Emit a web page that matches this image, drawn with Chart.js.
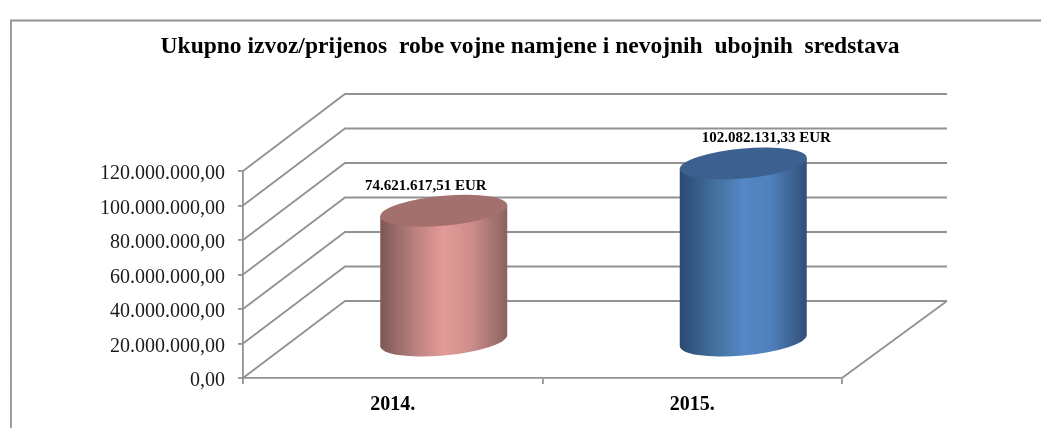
<!DOCTYPE html>
<html>
<head>
<meta charset="utf-8">
<title>Ukupno izvoz/prijenos</title>
<script src="https://cdn.jsdelivr.net/npm/chart.js@4"></script>
<style>
  html, body { margin: 0; padding: 0; background: #fff; }
  #wrap { width: 1041px; height: 428px; position: relative; overflow: hidden; }
</style>
</head>
<body>
<div id="wrap"><canvas id="exportChart"></canvas></div>
<script>
// Chart data
const years = ['2014.', '2015.'];
const exportValues = [74621617.51, 102082131.33];
const yTicks = [0, 20000000, 40000000, 60000000, 80000000, 100000000, 120000000];
const titleText = 'Ukupno izvoz/prijenos  robe vojne namjene i nevojnih  ubojnih  sredstava';

// Looks of the 3D box and the cylinders
const FONT = '"Liberation Serif", "Times New Roman", serif';
const lineColor = '#929292';
const lineWidth = 1.8;
const depthX = 102;
const depthY = -77;
const capHeight = 15;
const capTilt = 5.5;
const baseDrop = 2;
const labelShift = [[-18, -25], [23, -25]];
const bodyStops = [
  [[0, '#7b5856'], [0.28, '#bb8280'], [0.5, '#e49b98'], [0.72, '#cc8d8a'], [1, '#8a6260']],
  [[0, '#2b4a72'], [0.28, '#44709f'], [0.5, '#5488c6'], [0.72, '#4f80bb'], [1, '#2f4f78']]
];
const capColors = ['#a3706d', '#3c6190'];

const formatNumber = v => v.toLocaleString('de-DE', { minimumFractionDigits: 2, maximumFractionDigits: 2 });

// Frame, back walls, floor
const box3d = {
  id: 'box3d',
  afterLayout(chart) {
    // title is centred on the page frame, not on the plot
    chart.titleBlock.right += 218;
  },
  beforeDatasetsDraw(chart) {
    const { ctx, chartArea: a, scales: { y } } = chart;
    ctx.save();
    ctx.strokeStyle = lineColor;
    ctx.lineWidth = lineWidth;
    ctx.beginPath();
    ctx.moveTo(11, 428);
    ctx.lineTo(11, 20.5);
    ctx.lineTo(1041, 20.5);
    yTicks.forEach(v => {
      const py = y.getPixelForValue(v);
      ctx.moveTo(a.left, py);
      ctx.lineTo(a.left + depthX, py + depthY);
      ctx.lineTo(a.right + depthX + 3, py + depthY);
    });
    const base = y.getPixelForValue(0);
    ctx.moveTo(a.right, base);
    ctx.lineTo(a.right + depthX + 3, base + depthY);
    ctx.stroke();
    ctx.restore();
  },
  afterDatasetsDraw(chart) {
    const { ctx } = chart;
    chart.getDatasetMeta(0).data.forEach((bar, i) => {
      const rx = bar.width / 2;
      const cx = bar.x + depthX / 2;
      const top = bar.y + depthY / 2;
      const h = bar.base - bar.y + baseDrop;

      const grad = ctx.createLinearGradient(cx - rx, 0, cx + rx, 0);
      bodyStops[i].forEach(s => grad.addColorStop(s[0], s[1]));

      ctx.save();
      ctx.translate(cx, top);
      ctx.transform(1, -capTilt / rx, 0, 1, 0, 0);
      ctx.translate(-cx, 0);
      // body
      ctx.beginPath();
      ctx.moveTo(cx - rx, 0);
      ctx.lineTo(cx - rx, h);
      ctx.ellipse(cx, h, rx, capHeight, 0, Math.PI, 0, true);
      ctx.lineTo(cx + rx, 0);
      ctx.closePath();
      ctx.fillStyle = grad;
      ctx.fill();
      // top cap
      ctx.beginPath();
      ctx.ellipse(cx, 0, rx, capHeight, 0, 0, Math.PI * 2);
      ctx.fillStyle = capColors[i];
      ctx.fill();
      ctx.restore();

      // value label
      ctx.save();
      ctx.font = 'bold 15px ' + FONT;
      ctx.fillStyle = '#000';
      ctx.textAlign = 'center';
      ctx.textBaseline = 'middle';
      ctx.fillText(formatNumber(exportValues[i]) + ' EUR', cx + labelShift[i][0], top + labelShift[i][1]);
      ctx.restore();
    });
  }
};

new Chart(document.getElementById('exportChart'), {
  type: 'bar',
  data: {
    labels: years,
    datasets: [{
      data: exportValues,
      backgroundColor: 'transparent',
      borderWidth: 0,
      barThickness: 127
    }]
  },
  plugins: [box3d],
  options: {
    responsive: true,
    maintainAspectRatio: false,
    animation: false,
    layout: { padding: { left: 0, right: 199, top: 0, bottom: 0 } },
    plugins: {
      legend: { display: false },
      tooltip: { enabled: false },
      title: {
        display: true,
        text: titleText,
        color: '#000',
        font: { family: FONT, size: 23.5, weight: 'bold', lineHeight: 1.2 },
        padding: { top: 33, bottom: 109.8 }
      }
    },
    scales: {
      y: {
        min: 0,
        max: 120000000,
        afterFit: s => { s.width = 243; },
        afterBuildTicks: s => { s.ticks = yTicks.map(v => ({ value: v })); },
        border: { display: true, color: lineColor, width: lineWidth },
        grid: { display: true, drawOnChartArea: false, drawTicks: true, tickLength: 5, color: lineColor, lineWidth: lineWidth },
        ticks: {
          padding: 13,
          labelOffset: 3,
          color: '#1a1a1a',
          font: { family: FONT, size: 20 },
          callback: v => formatNumber(v)
        }
      },
      x: {
        afterFit: s => { s.height = 50; },
        border: { display: true, color: lineColor, width: lineWidth },
        grid: { display: true, drawOnChartArea: false, drawTicks: true, tickLength: 6, color: lineColor, lineWidth: lineWidth },
        ticks: {
          padding: 9,
          color: '#000',
          font: { family: FONT, size: 20, weight: 'bold' }
        }
      }
    }
  }
});
</script>
</body>
</html>
